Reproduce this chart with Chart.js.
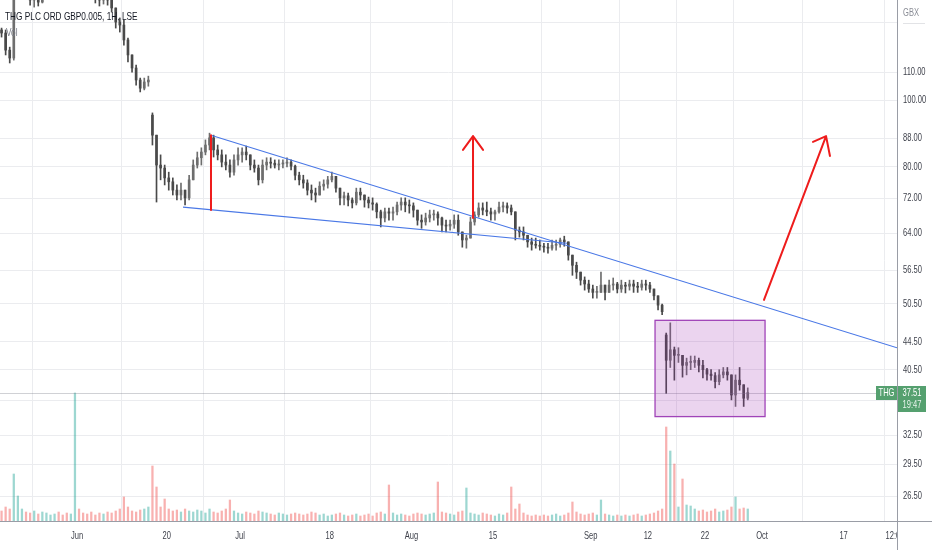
<!DOCTYPE html>
<html><head><meta charset="utf-8">
<script src="https://cdn.jsdelivr.net/npm/chart.js@4.4.1/dist/chart.umd.min.js"></script>
<style>html,body{margin:0;padding:0;background:#fff;overflow:hidden}canvas{display:block}</style>
</head><body>
<canvas id="c" width="932" height="550"></canvas>
<script>
// ---- categories: LSE trading days (hourly chart summarised as AM / PM sessions) ----
const tradingDates = [
'2022-05-18','2022-05-19','2022-05-20','2022-05-23','2022-05-24','2022-05-25','2022-05-26','2022-05-27','2022-05-30','2022-05-31',
'2022-06-01','2022-06-06','2022-06-07','2022-06-08','2022-06-09','2022-06-10','2022-06-13','2022-06-14','2022-06-15','2022-06-16',
'2022-06-17','2022-06-20','2022-06-21','2022-06-22','2022-06-23','2022-06-24','2022-06-27','2022-06-28','2022-06-29','2022-06-30',
'2022-07-01','2022-07-04','2022-07-05','2022-07-06','2022-07-07','2022-07-08','2022-07-11','2022-07-12','2022-07-13','2022-07-14',
'2022-07-15','2022-07-18','2022-07-19','2022-07-20','2022-07-21','2022-07-22','2022-07-25','2022-07-26','2022-07-27','2022-07-28',
'2022-07-29','2022-08-01','2022-08-02','2022-08-03','2022-08-04','2022-08-05','2022-08-08','2022-08-09','2022-08-10','2022-08-11',
'2022-08-12','2022-08-15','2022-08-16','2022-08-17','2022-08-18','2022-08-19','2022-08-22','2022-08-23','2022-08-24','2022-08-25',
'2022-08-26','2022-08-30','2022-08-31','2022-09-01','2022-09-02','2022-09-05','2022-09-06','2022-09-07','2022-09-08','2022-09-09',
'2022-09-12','2022-09-13','2022-09-14','2022-09-15','2022-09-16','2022-09-20','2022-09-21','2022-09-22','2022-09-23','2022-09-26',
'2022-09-27','2022-09-28','2022-09-29'];
const axisOriginDate = '2022-06-01';
const sessions = tradingDates.flatMap(d => [d + ' AM', d + ' PM']).slice(1, 185);

// ---- price series (GBX) ----
const opens = [
126.7,125.4,118.4,115.3,142.4,149.8,152.3,144.9,140.1,142.4,
139.1,147.3,152.3,157.5,159.1,154.9,150.8,148.8,150.8,154.9,
153.9,152.3,148.8,145.8,142.4,140.1,143.9,140.1,136.4,130.1,
128.8,122.5,116.5,111.5,107.1,104.2,106.4,95.2,89.0,80.5,
79.7,77.1,76.1,74.0,72.8,74.0,72.1,76.6,80.5,82.5,
84.1,86.1,88.2,84.7,83.3,81.3,80.5,78.6,81.9,83.3,
84.1,83.3,80.5,79.7,76.6,80.5,81.3,81.0,80.5,80.8,
81.0,81.3,80.2,77.8,76.6,75.8,74.0,73.3,72.8,75.0,
75.5,76.6,77.5,74.5,72.1,72.6,71.6,70.9,73.5,72.8,
71.6,70.9,70.6,68.8,67.4,68.8,68.5,68.8,70.4,71.1,
70.4,70.2,69.2,66.9,66.5,67.4,68.1,68.3,67.4,65.8,
65.6,66.0,66.9,64.3,62.6,63.0,66.5,68.1,69.7,69.2,
68.8,68.3,68.8,69.9,70.2,69.7,68.8,64.7,64.3,63.6,
62.2,61.7,61.5,61.3,61.1,60.9,61.5,61.7,62.6,62.2,
59.5,57.5,56.2,54.7,54.0,53.1,52.5,52.5,53.8,52.5,
53.8,54.0,53.1,53.8,53.6,54.0,53.6,53.4,54.0,53.8,
53.1,51.9,50.3,45.5,41.8,43.3,42.5,42.5,41.1,41.5,
41.5,41.8,41.1,40.5,39.9,39.7,38.9,39.8,40.2,39.8,
37.2,39.1,38.5,36.8];
const highs = [
127.5,126.7,119.6,149.8,154.9,157.5,154.9,147.3,144.9,145.8,
149.8,154.9,160.2,162.9,161.3,157.5,154.9,153.9,157.5,160.2,
158.1,156.0,153.9,149.8,147.3,148.8,149.8,142.4,136.4,131.9,
131.0,123.3,116.5,112.6,107.8,107.8,108.5,95.9,89.0,83.3,
80.5,78.6,77.1,75.3,75.8,74.0,77.8,81.9,84.1,85.3,
87.6,89.6,89.0,86.1,84.7,83.3,81.9,83.3,85.3,85.3,
85.8,83.3,81.9,80.5,81.9,82.5,82.5,81.9,81.9,81.9,
82.5,81.9,80.5,78.6,77.8,76.6,75.3,74.5,76.1,76.6,
77.5,78.6,77.5,74.5,73.5,73.3,72.1,74.5,74.5,72.8,
72.3,72.1,70.9,69.2,69.7,69.7,69.9,71.1,72.1,72.1,
71.6,70.9,69.2,68.1,68.5,69.2,69.2,68.8,67.6,66.9,
66.9,68.1,68.1,64.3,63.6,67.6,68.8,70.9,70.9,71.1,
69.7,69.2,71.1,71.1,70.9,70.4,68.8,65.4,65.4,63.6,
63.0,63.0,62.6,61.9,61.9,62.6,62.6,63.0,63.4,62.2,
59.5,58.1,56.2,55.3,54.7,53.8,53.6,56.2,53.8,54.7,
55.1,54.3,54.7,54.3,54.7,54.7,54.3,54.7,54.7,54.3,
53.1,51.9,50.5,45.8,47.4,43.7,43.6,42.5,42.1,42.4,
42.4,42.1,41.8,40.7,40.5,40.1,40.5,40.8,40.8,39.8,
39.8,40.8,38.5,38.1];
const lows = [
123.7,116.5,113.4,114.5,142.4,147.3,142.4,137.7,136.8,137.3,
138.7,145.8,150.8,154.9,152.3,148.8,145.8,144.9,148.8,150.8,
148.8,145.8,143.9,138.7,137.3,138.2,137.7,134.5,127.5,125.8,
120.4,113.8,110.0,105.3,102.9,103.6,104.9,86.1,71.1,76.6,
75.3,74.0,72.8,71.6,71.6,70.4,71.6,76.6,79.7,80.5,
83.3,84.7,82.7,81.9,80.0,79.2,77.3,77.8,80.5,81.3,
81.9,79.2,78.6,75.3,75.8,79.2,79.7,79.7,79.2,79.7,
80.0,79.2,76.6,75.3,74.5,72.8,71.6,71.1,72.8,74.0,
74.5,76.1,73.5,70.4,70.4,70.2,69.7,70.4,71.6,69.9,
69.7,69.2,67.4,65.4,66.5,66.9,66.9,68.1,69.2,68.8,
68.5,67.6,65.8,65.1,65.8,66.5,66.9,65.8,64.3,64.3,
64.7,65.1,63.6,61.1,60.9,63.0,65.8,67.6,68.1,67.9,
66.9,66.9,68.5,68.8,68.5,68.1,62.6,63.2,62.6,61.1,
60.5,60.9,60.5,60.1,59.9,60.5,60.5,61.1,61.3,58.5,
55.6,55.0,53.8,52.9,52.5,51.5,51.5,52.5,51.2,52.5,
52.9,52.4,52.5,52.4,52.9,52.5,52.5,52.9,52.9,52.5,
51.2,49.5,48.7,37.4,40.8,39.1,41.5,39.5,39.8,40.5,
40.8,40.2,39.4,39.1,39.1,38.1,38.5,39.4,39.1,36.6,
35.8,37.8,35.8,36.6];
const closes = [
125.4,118.4,115.3,142.4,149.8,152.3,144.9,140.1,142.4,139.1,
147.3,152.3,157.5,159.1,154.9,150.8,148.8,150.8,154.9,153.9,
152.3,148.8,145.8,142.4,140.1,143.9,140.1,136.4,130.1,128.8,
122.5,116.5,111.5,107.1,104.2,106.4,107.1,89.0,80.5,79.7,
77.1,76.1,74.0,72.8,74.0,72.1,76.6,80.5,82.5,84.1,
86.1,88.2,84.7,83.3,81.3,80.5,78.6,81.9,83.3,84.1,
83.3,80.5,79.7,76.6,80.5,81.3,81.0,80.5,80.8,81.0,
81.3,80.2,77.8,76.6,75.8,74.0,73.3,72.8,75.0,75.5,
76.6,77.5,74.5,72.1,72.6,71.6,70.9,73.5,72.8,71.6,
70.9,70.6,68.8,67.4,68.8,68.5,68.8,70.4,71.1,70.4,
70.2,69.2,66.9,66.5,67.4,68.1,68.3,67.4,65.8,65.6,
66.0,66.9,64.3,62.6,63.0,66.5,68.1,69.7,69.2,68.8,
68.3,68.8,69.9,70.2,69.7,68.8,64.7,64.3,63.6,62.2,
61.7,61.5,61.3,61.1,60.9,61.5,61.7,62.6,62.2,59.5,
57.5,56.2,54.7,54.0,53.1,52.5,52.5,53.8,52.5,53.8,
54.0,53.1,53.8,53.6,54.0,53.6,53.4,54.0,53.8,53.1,
51.9,50.3,49.2,41.8,43.3,42.5,42.5,41.1,41.5,41.5,
41.8,41.1,40.5,39.9,39.7,38.9,39.8,40.2,39.8,37.2,
39.1,38.5,36.8,37.51];
// peak hourly volume within each session (thousand shares)
const volumes = [
500,700,600,2350,1250,600,450,400,500,350,
450,400,300,350,450,300,400,350,6400,600,
400,350,450,300,400,350,450,400,500,600,
1200,700,500,450,550,600,700,2750,1700,700,
1100,600,500,550,450,600,500,450,550,500,
400,600,450,400,500,600,1050,500,400,350,
450,400,350,500,450,400,350,300,400,350,
300,350,400,350,300,350,450,400,300,350,
250,300,350,400,300,250,300,350,250,300,
350,250,400,450,350,1800,400,300,350,300,
250,350,400,350,300,350,400,1950,450,400,
350,300,450,500,1650,400,350,300,400,350,
300,250,350,300,400,1700,600,850,400,300,
250,300,250,300,250,300,350,250,300,400,
950,450,350,300,350,400,300,1050,350,300,
250,300,250,300,250,300,350,250,300,350,
400,500,600,4700,3500,2850,700,2100,800,750,
600,500,550,450,500,600,450,500,550,700,
1200,600,650,600];

// ---- axis ticks ----
const priceTicks = [26.5, 29.5, 32.5, 36.5, 40.5, 44.5, 50.5, 56.5, 64, 72, 80, 88, 100, 110, 130];
const priceTickLabels = ['26.50','29.50','32.50','','40.50','44.50','50.50','56.50','64.00','72.00','80.00','88.00','100.00','110.00',''];
const timeTickDays = [0, 11, 20, 31, 41, 51, 63, 70, 77, 84, 94];
const timeTickLabels = ['Jun','20','Jul','18','Aug','15','Sep','12','22','Oct','17'];
const edgeTimeLabel = {day: 100.3, text: '12:00'};
const priceRange = {min: 24.37, max: 140.1};
const dayRange = {min: -9.442, max: 100.55};

// ---- drawings (trading-day index, price) ----
const upperTrend = [[16.43, 89.0], [100.55, 43.6]];
const lowerTrend = [[13.0, 69.9], [60.09, 61.9]];
const redMarker = [[16.43, 89.0], [16.43, 69.2]];
const arrowUp = {from: [48.56, 67.4], to: [48.56, 88.7], heads: [[47.33, 84.7], [49.79, 84.7]]};
const arrowTarget = {from: [84.24, 51.2], to: [91.85, 88.7], heads: [[90.25, 87.0], [92.33, 83.0]]};
const boxRange = {d0: 70.88, d1: 84.37, top: 47.8, bottom: 34.6};
const lastPrice = 37.51;
const countdown = '19:47';
const symbol = 'THG';
const title = 'THG PLC ORD GBP0.005, 1H, LSE';

// ---- build datasets ----
const originPos = tradingDates.indexOf(axisOriginDate);
const barX = sessions.map(s => {
  const [d, half] = s.split(' ');
  return (tradingDates.indexOf(d) - originPos) + (half === 'AM' ? 0.25 : 0.75);
});
const isUp = closes.map((c, i) => c >= opens[i]);
const wickData = barX.map((x, i) => ({x, y: [lows[i], highs[i]]}));
const bodyData = barX.map((x, i) => ({x, y: [opens[i], closes[i]]}));
const volData = barX.map((x, i) => ({x, y: volumes[i]}));

const GRID = '#ebecef';
const SX = 0.72; // horizontal text compression seen in the screenshot

function cText(ctx, text, x, y, font, color, align) {
  ctx.save();
  ctx.font = font; ctx.fillStyle = color; ctx.textBaseline = 'middle'; ctx.textAlign = align || 'left';
  ctx.translate(x, y); ctx.scale(SX, 1); ctx.fillText(text, 0, 0);
  ctx.restore();
}

const drawings = {
  id: 'drawings',
  afterDatasetsDraw(chart) {
    const ctx = chart.ctx, a = chart.chartArea;
    const X = v => chart.scales.x.getPixelForValue(v);
    const Y = v => chart.scales.y.getPixelForValue(v);
    ctx.save();
    ctx.beginPath(); ctx.rect(a.left, a.top, a.right - a.left, a.bottom - a.top); ctx.clip();
    // last price line
    const yl = Math.round(Y(lastPrice)) + 0.5;
    ctx.strokeStyle = 'rgba(120,123,134,0.35)'; ctx.lineWidth = 1;
    ctx.beginPath(); ctx.moveTo(a.left, yl); ctx.lineTo(a.right, yl); ctx.stroke();
    // rectangle
    const bx0 = X(boxRange.d0), bx1 = X(boxRange.d1), by0 = Y(boxRange.top), by1 = Y(boxRange.bottom);
    ctx.fillStyle = 'rgba(156,39,176,0.2)';
    ctx.fillRect(bx0, by0, bx1 - bx0, by1 - by0);
    ctx.strokeStyle = '#a044b8'; ctx.lineWidth = 1.3;
    ctx.strokeRect(bx0, by0, bx1 - bx0, by1 - by0);
    // trend lines
    ctx.strokeStyle = '#4a78e6'; ctx.lineWidth = 1.1;
    [upperTrend, lowerTrend].forEach(t => {
      ctx.beginPath(); ctx.moveTo(X(t[0][0]), Y(t[0][1])); ctx.lineTo(X(t[1][0]), Y(t[1][1])); ctx.stroke();
    });
    // red marks
    ctx.strokeStyle = '#ee1c1c'; ctx.lineWidth = 2; ctx.lineCap = 'round'; ctx.lineJoin = 'round';
    ctx.beginPath(); ctx.moveTo(X(redMarker[0][0]), Y(redMarker[0][1])); ctx.lineTo(X(redMarker[1][0]), Y(redMarker[1][1])); ctx.stroke();
    [arrowUp, arrowTarget].forEach(ar => {
      ctx.beginPath();
      ctx.moveTo(X(ar.from[0]), Y(ar.from[1])); ctx.lineTo(X(ar.to[0]), Y(ar.to[1]));
      ar.heads.forEach(h => { ctx.moveTo(X(ar.to[0]), Y(ar.to[1])); ctx.lineTo(X(h[0]), Y(h[1])); });
      ctx.stroke();
    });
    ctx.restore();
  },
  afterDraw(chart) {
    const ctx = chart.ctx, a = chart.chartArea;
    const X = v => chart.scales.x.getPixelForValue(v);
    const Y = v => chart.scales.y.getPixelForValue(v);
    ctx.save();
    // axis lines
    ctx.strokeStyle = '#9a9da6'; ctx.lineWidth = 1;
    ctx.beginPath(); ctx.moveTo(a.right + 0.5, 0); ctx.lineTo(a.right + 0.5, chart.height); ctx.stroke();
    ctx.beginPath(); ctx.moveTo(0, a.bottom + 0.5); ctx.lineTo(chart.width, a.bottom + 0.5); ctx.stroke();
    // price labels
    const tf = '10.5px "Liberation Sans", Arial, sans-serif';
    priceTicks.forEach((v, i) => {
      if (priceTickLabels[i]) cText(ctx, priceTickLabels[i], a.right + 6, Y(v), tf, '#3c3f49');
    });
    cText(ctx, 'GBX', a.right + 6, 13, tf, '#8a8d96');
    ctx.strokeStyle = '#e2e3e6'; ctx.beginPath(); ctx.moveTo(a.right + 6, 23.5); ctx.lineTo(a.right + 28, 23.5); ctx.stroke();
    // time labels
    const xf = '10.5px "Liberation Sans", Arial, sans-serif';
    timeTickDays.forEach((d, i) => cText(ctx, timeTickLabels[i], X(d), 536, xf, '#3c3f49', 'center'));
    ctx.save();
    ctx.beginPath(); ctx.rect(0, a.bottom + 1, a.right, chart.height - a.bottom); ctx.clip();
    cText(ctx, edgeTimeLabel.text, X(edgeTimeLabel.day), 536, xf, '#3c3f49', 'center');
    ctx.restore();
    // last price labels
    const yl = Math.round(Y(lastPrice));
    const green = '#55a06f';
    ctx.fillStyle = green;
    ctx.fillRect(a.right - 21, yl - 7, 21, 14);
    ctx.fillRect(a.right + 1, yl - 7, 28, 26);
    cText(ctx, symbol, a.right - 10.5, yl, tf, '#ffffff', 'center');
    cText(ctx, lastPrice.toFixed(2), a.right + 15, yl, tf, '#ffffff', 'center');
    cText(ctx, countdown, a.right + 15, yl + 12, tf, '#e8f3ec', 'center');
    // legend
    cText(ctx, title, 5, 16.5, '11.5px "Liberation Sans", Arial, sans-serif', '#131722');
    cText(ctx, 'Vol', 6, 33, '11.5px "Liberation Sans", Arial, sans-serif', '#787b86');
    ctx.restore();
  }
};

new Chart(document.getElementById('c'), {
  type: 'bar',
  data: {
    datasets: [
      {label: 'Vol', data: volData, yAxisID: 'vol', grouped: false, barThickness: 1.6,
       backgroundColor: isUp.map(u => u ? 'rgba(38,166,154,0.45)' : 'rgba(239,83,80,0.45)')},
      {label: 'Wick', data: wickData, yAxisID: 'y', grouped: false, barThickness: 1,
       backgroundColor: isUp.map(u => u ? '#6e6e6e' : '#4a4a4a')},
      {label: 'Body', data: bodyData, yAxisID: 'y', grouped: false, barThickness: 2, minBarLength: 1,
       backgroundColor: isUp.map(u => u ? '#6e6e6e' : '#4a4a4a')}
    ]
  },
  options: {
    responsive: false, animation: false, devicePixelRatio: 1,
    layout: {padding: 0},
    plugins: {legend: {display: false}, tooltip: {enabled: false}},
    scales: {
      x: {type: 'linear', position: 'bottom', offset: false, min: dayRange.min, max: dayRange.max,
          afterBuildTicks: s => { s.ticks = timeTickDays.map(v => ({value: v})); },
          afterFit: s => { s.height = 29; },
          ticks: {display: false}, border: {display: false},
          grid: {color: GRID, drawTicks: false, lineWidth: 1}},
      y: {type: 'logarithmic', position: 'right', min: priceRange.min, max: priceRange.max,
          afterBuildTicks: s => { s.ticks = priceTicks.map(v => ({value: v})); },
          afterFit: s => { s.width = 35; },
          ticks: {display: false}, border: {display: false},
          grid: {color: GRID, drawTicks: false, lineWidth: 1}},
      vol: {type: 'linear', display: false, min: 0, max: 26050, grid: {display: false}}
    }
  },
  plugins: [drawings]
});
</script>
</body></html>
